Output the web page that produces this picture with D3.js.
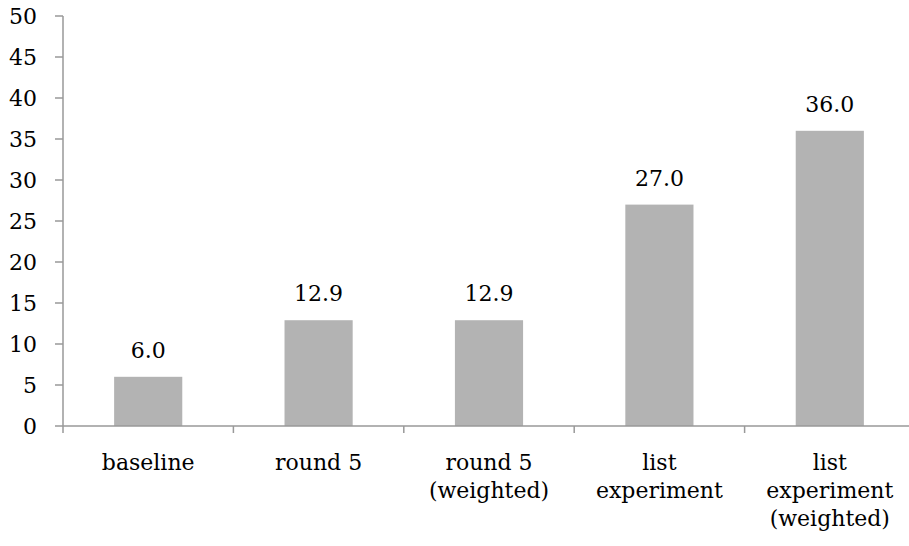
<!DOCTYPE html>
<html>
<head>
<meta charset="utf-8">
<script src="https://cdn.jsdelivr.net/npm/d3@7"></script>
<style>
  body { margin: 0; background: #fff; }
  svg text { font-family: "DejaVu Serif", serif; fill: #000; }
</style>
</head>
<body>
<script>
var categories = [["baseline"], ["round 5"], ["round 5", "(weighted)"], ["list", "experiment"], ["list", "experiment", "(weighted)"]];
var values = [6.0, 12.9, 12.9, 27.0, 36.0];
var yTicks = [0, 5, 10, 15, 20, 25, 30, 35, 40, 45, 50];

var w = 909, h = 546;
var svg = d3.select("body").append("svg").attr("width", w).attr("height", h);

var x = d3.scaleBand().domain(d3.range(values.length)).range([63, 915]);
var y = d3.scaleLinear().domain([0, 50]).range([426, 16]);
var axisColor = "#999";

// bars
var bw = x.bandwidth() * 0.4;
svg.selectAll("rect.bar").data(values).enter().append("rect")
    .attr("class", "bar")
    .attr("x", function(d, i) { return x(i) + (x.bandwidth() - bw) / 2; })
    .attr("y", function(d) { return y(d); })
    .attr("width", bw)
    .attr("height", function(d) { return y(0) - y(d); })
    .attr("fill", "#b3b3b3");

// value labels
svg.selectAll("text.val").data(values).enter().append("text")
    .attr("class", "val")
    .attr("x", function(d, i) { return x(i) + x.bandwidth() / 2; })
    .attr("y", function(d) { return y(d) - 19; })
    .attr("text-anchor", "middle")
    .style("font-size", "22px")
    .text(function(d) { return d.toFixed(1); });

// y axis
svg.append("line").attr("x1", 63).attr("x2", 63).attr("y1", y(50)).attr("y2", y(0))
    .attr("stroke", axisColor).attr("stroke-width", 1.5);
var yt = svg.selectAll("g.ytick").data(yTicks).enter().append("g")
    .attr("transform", function(d) { return "translate(0," + y(d) + ")"; });
yt.append("line").attr("x1", 55).attr("x2", 63).attr("stroke", axisColor).attr("stroke-width", 1.5);
yt.append("text").attr("x", 37).attr("dy", "0.35em").attr("text-anchor", "end")
    .style("font-size", "22px")
    .text(function(d) { return d; });

// x axis
svg.append("line").attr("x1", 63).attr("x2", 915).attr("y1", y(0)).attr("y2", y(0))
    .attr("stroke", axisColor).attr("stroke-width", 1.5);
svg.selectAll("line.xtick").data(d3.range(values.length)).enter().append("line")
    .attr("x1", function(d) { return x(d); })
    .attr("x2", function(d) { return x(d); })
    .attr("y1", y(0)).attr("y2", y(0) + 7)
    .attr("stroke", axisColor).attr("stroke-width", 1.5);

var xl = svg.selectAll("text.xlab").data(categories).enter().append("text")
    .attr("class", "xlab")
    .attr("text-anchor", "middle")
    .style("font-size", "22px");
xl.selectAll("tspan").data(function(d, i) { return d.map(function(s) { return {s: s, i: i}; }); })
    .enter().append("tspan")
    .attr("x", function(d) { return x(d.i) + x.bandwidth() / 2; })
    .attr("y", function(d, j) { return 470 + j * 28; })
    .text(function(d) { return d.s; });
</script>
</body>
</html>
